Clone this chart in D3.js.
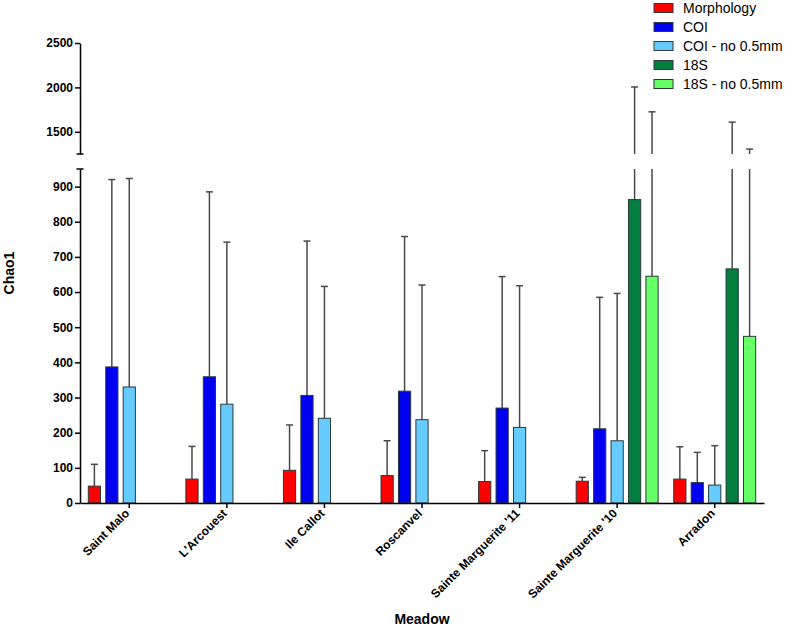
<!DOCTYPE html>
<html><head><meta charset="utf-8">
<script src="https://cdn.jsdelivr.net/npm/d3@7"></script>
<style>
html,body{margin:0;padding:0;background:#fff;}
svg{display:block;font-family:"Liberation Sans",Arial,sans-serif;}
</style></head>
<body>
<svg id="chart" width="785" height="635"></svg>
<script>
const categories = ["Saint Malo","L'Arcouest","Ile Callot","Roscanvel","Sainte Marguerite '11","Sainte Marguerite '10","Arradon"];
const seriesNames = ["Morphology","COI","COI - no 0.5mm","18S","18S - no 0.5mm"];
const seriesColors = ["#ff0000","#0000f0","#66ccff","#007f3f","#66ff66"];
const morphology    = [48, 68, 93, 78, 61, 62, 68];
const morphologyErr = [110, 161, 222, 177, 149, 73, 160];
const coi           = [387, 359, 306, 318, 270, 211, 58];
const coiErr        = [920, 885, 745, 758, 644, 585, 144];
const coiNo         = [330, 281, 241, 237, 215, 177, 51];
const coiNoErr      = [923, 742, 616, 620, 618, 596, 163];
const s18           = [null, null, null, null, null, 863, 666];
const s18Err        = [null, null, null, null, null, 2005, 1609];
const s18No         = [null, null, null, null, null, 645, 474];
const s18NoErr      = [null, null, null, null, null, 1725, 1305];
const lowTicks  = [0,100,200,300,400,500,600,700,800,900];
const highTicks = [1500,2000,2500];

const values = [morphology, coi, coiNo, s18, s18No];
const errs   = [morphologyErr, coiErr, coiNoErr, s18Err, s18NoErr];

const svg = d3.select("#chart");
const axisX = 80, axisRight = 764, baseY = 503;
const lowMax = 950, highMin = 1250, highMax = 2500;
const yLow  = d3.scaleLinear().domain([0, lowMax]).range([baseY, 169]);
const yHigh = d3.scaleLinear().domain([highMin, highMax]).range([154, 43]);

const x0 = d3.scaleBand().domain(categories).range([axisX, axisRight]).paddingInner(0.16).paddingOuter(0.085);
const x1 = d3.scaleBand().domain(seriesNames).range([0, x0.bandwidth()]).paddingInner(0.3).paddingOuter(0);

const rows = [];
categories.forEach((c, i) => {
  seriesNames.forEach((s, j) => {
    const v = values[j][i];
    if (v == null) return;
    rows.push({cat: c, ser: s, color: seriesColors[j], v: v, e: errs[j][i]});
  });
});

const g = svg.append("g");
const errColor = "#4a4a4a";
rows.forEach(d => {
  const cx = x0(d.cat) + x1(d.ser) + x1.bandwidth() / 2;
  const topLow = d.e > lowMax ? yLow(lowMax) : yLow(d.e);
  g.append("line").attr("x1", cx).attr("x2", cx).attr("y1", yLow(d.v)).attr("y2", topLow)
    .attr("stroke", errColor).attr("stroke-width", 1.5);
  let capY;
  if (d.e > lowMax) {
    g.append("line").attr("x1", cx).attr("x2", cx).attr("y1", yHigh(highMin)).attr("y2", yHigh(d.e))
      .attr("stroke", errColor).attr("stroke-width", 1.5);
    capY = yHigh(d.e);
  } else capY = yLow(d.e);
  g.append("line").attr("x1", cx - 3.5).attr("x2", cx + 3.5).attr("y1", capY).attr("y2", capY)
    .attr("stroke", errColor).attr("stroke-width", 1.5);
});
g.selectAll("rect.bar").data(rows).join("rect").attr("class", "bar")
  .attr("x", d => x0(d.cat) + x1(d.ser))
  .attr("y", d => yLow(d.v))
  .attr("width", x1.bandwidth())
  .attr("height", d => baseY - yLow(d.v))
  .attr("fill", d => d.color)
  .attr("stroke", "#2a3a3a").attr("stroke-width", 1);

const yAxisLow = d3.axisLeft(yLow).tickValues(lowTicks).tickFormat(d3.format("d")).tickSize(5).tickPadding(2).tickSizeOuter(0);
const yAxisHigh = d3.axisLeft(yHigh).tickValues(highTicks).tickFormat(d3.format("d")).tickSize(5).tickPadding(2).tickSizeOuter(0);
function styleAxis(sel) {
  sel.select(".domain").attr("stroke", "#000").attr("stroke-width", 1.5);
  sel.selectAll(".tick line").attr("stroke", "#000").attr("stroke-width", 1.5);
  sel.selectAll(".tick text").attr("fill", "#000").attr("font-size", "12px").attr("font-weight", "bold")
    .attr("font-family", "'Liberation Sans',Arial,sans-serif");
}
svg.append("g").attr("transform", `translate(${axisX},0)`).call(yAxisLow).call(styleAxis);
svg.append("g").attr("transform", `translate(${axisX},0)`).call(yAxisHigh).call(styleAxis);
[yHigh(highMin), yLow(lowMax)].forEach(yy => {
  svg.append("line").attr("x1", axisX - 3.5).attr("x2", axisX + 3.5).attr("y1", yy).attr("y2", yy)
    .attr("stroke", "#000").attr("stroke-width", 1.5);
});

const xAxis = d3.axisBottom(x0).tickSize(5).tickSizeOuter(0).tickPadding(4);
const xg = svg.append("g").attr("transform", `translate(0,${baseY})`).call(xAxis);
xg.select(".domain").attr("stroke", "#000").attr("stroke-width", 1.5);
xg.selectAll(".tick line").attr("stroke", "#000").attr("stroke-width", 1.5);
xg.selectAll(".tick text").attr("fill", "#000").attr("font-size", "12px").attr("font-weight", "bold")
  .attr("font-family", "'Liberation Sans',Arial,sans-serif")
  .attr("text-anchor", "end").attr("dy", "0.35em")
  .attr("transform", "translate(0,6) rotate(-45)").attr("y", 0).attr("x", -3);

svg.append("text").attr("x", (axisX + axisRight) / 2).attr("y", 624).attr("text-anchor", "middle")
  .attr("font-size", "14px").attr("font-weight", "bold").text("Meadow");
svg.append("text").attr("transform", `translate(14,${(43 + baseY) / 2}) rotate(-90)`).attr("text-anchor", "middle")
  .attr("font-size", "14px").attr("font-weight", "bold").text("Chao1");

const lg = svg.append("g");
seriesNames.forEach((s, i) => {
  const yy = 8 + i * 19;
  lg.append("rect").attr("x", 654).attr("y", yy - 4.5).attr("width", 19).attr("height", 9)
    .attr("fill", seriesColors[i]).attr("stroke", "#2a3a3a").attr("stroke-width", 1);
  lg.append("text").attr("x", 683).attr("y", yy).attr("dy", "0.35em").attr("font-size", "14px")
    .attr("fill", "#000").text(s);
});
</script>
</body></html>
